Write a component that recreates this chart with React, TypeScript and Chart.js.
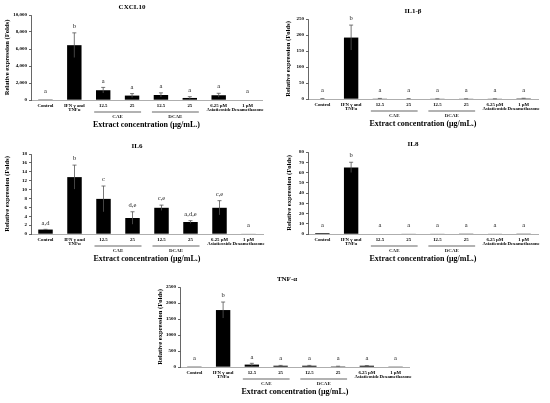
import { useEffect, useRef } from "react";
import Chart from "chart.js/auto";

const CATEGORIES = [
  "Control",
  ["IFN γ and", "TNFα"],
  "12.5",
  "25",
  "12.5",
  "25",
  ["6.25 μM", "Asiaticoside"],
  ["1 μM", "Dexamethasone"],
];
const GROUPS = [
  { label: "CAE", from: 2, to: 3 },
  { label: "DCAE", from: 4, to: 5 },
];

const CXCL10_VALUES = [1, 6450, 1150, 520, 590, 240, 560, 0];
const CXCL10_ERRORS = [0, 1450, 330, 230, 250, 150, 230, 0];
const CXCL10_LETTERS = ["a", "b", "a", "a", "a", "a", "a", "a"];
const CXCL10_TICKS = [0, 2000, 4000, 6000, 8000, 10000];
const CXCL10_TICK_LABELS = ["0", "2,000", "4,000", "6,000", "8,000", "10,000"];

const IL1B_VALUES = [1, 192, 1.5, 1, 0.5, 0.5, 0.5, 2];
const IL1B_ERRORS = [0.2, 39, 0.3, 0.2, 0.1, 0.1, 0.1, 0.3];
const IL1B_LETTERS = ["a", "b", "a", "a", "a", "a", "a", "a"];
const IL1B_TICKS = [0, 50, 100, 150, 200, 250];
const IL1B_TICK_LABELS = ["0", "50", "100", "150", "200", "250"];

const IL6_VALUES = [1, 12.8, 7.9, 3.6, 5.9, 2.7, 5.9, 0.05];
const IL6_ERRORS = [0.05, 2.7, 2.9, 1.4, 0.6, 0.3, 1.6, 0];
const IL6_LETTERS = ["a,d", "b", "c", "d,e", "c,e", "a,d,e", "c,e", "a"];
const IL6_TICKS = [0, 2, 4, 6, 8, 10, 12, 14, 16, 18];
const IL6_TICK_LABELS = ["0", "2", "4", "6", "8", "10", "12", "14", "16", "18"];

const IL8_VALUES = [1, 65, 0.3, 0.2, 0.2, 0.1, 0.2, 0.1];
const IL8_ERRORS = [0, 5, 0, 0, 0, 0, 0, 0];
const IL8_LETTERS = ["a", "b", "a", "a", "a", "a", "a", "a"];
const IL8_TICKS = [0, 10, 20, 30, 40, 50, 60, 70, 80];
const IL8_TICK_LABELS = ["0", "10", "20", "30", "40", "50", "60", "70", "80"];

const TNF_VALUES = [1, 1780, 75, 40, 40, 20, 40, 2];
const TNF_ERRORS = [0, 250, 40, 10, 10, 5, 5, 0];
const TNF_LETTERS = ["a", "b", "a", "a", "a", "a", "a", "a"];
const TNF_TICKS = [0, 500, 1000, 1500, 2000, 2500];
const TNF_TICK_LABELS = ["0", "500", "1000", "1500", "2000", "2500"];

const SERIF = "'Liberation Serif', 'Times New Roman', serif";

type PanelProps = {
  title: string;
  values: number[];
  errors: number[];
  letters: string[];
  ticks: number[];
  tickLabels: string[];
  box: { x: number; y: number; w: number; h: number };
  area: { left: number; top: number; right: number; bottom: number };
  titleX: number;
  yTitleX: number;
};

const annotations = {
  id: "annotations",
  afterDatasetsDraw(chart: any, _args: any, opts: any) {
    const { ctx, chartArea } = chart;
    const x = chart.scales.x;
    const y = chart.scales.y;
    const base = y.getPixelForValue(0);
    ctx.save();
    // error bars
    ctx.strokeStyle = "#555";
    ctx.lineWidth = 0.8;
    opts.values.forEach((v: number, i: number) => {
      const e = opts.errors[i];
      if (!e) return;
      const cx = x.getPixelForValue(i);
      const yt = y.getPixelForValue(v + e);
      const yb = y.getPixelForValue(Math.max(0, v - e));
      ctx.beginPath();
      ctx.moveTo(cx, yb);
      ctx.lineTo(cx, yt);
      ctx.moveTo(cx - 2, yt);
      ctx.lineTo(cx + 2, yt);
      ctx.stroke();
    });
    // significance letters
    ctx.fillStyle = "#222";
    ctx.font = `6.5px ${SERIF}`;
    ctx.textAlign = "center";
    ctx.textBaseline = "middle";
    opts.letters.forEach((t: string, i: number) => {
      const top = y.getPixelForValue(opts.values[i] + opts.errors[i]);
      ctx.fillText(t, x.getPixelForValue(i), Math.min(top - 6.5, base - 9));
    });
    // group underlines
    ctx.strokeStyle = "#222";
    ctx.lineWidth = 0.7;
    ctx.font = `bold 5px ${SERIF}`;
    GROUPS.forEach((g) => {
      const x1 = x.getPixelForValue(g.from) - 9;
      const x2 = x.getPixelForValue(g.to) + 9;
      const ly = chartArea.bottom + 12;
      ctx.beginPath();
      ctx.moveTo(x1, ly);
      ctx.lineTo(x2, ly);
      ctx.stroke();
      ctx.fillText(g.label, (x1 + x2) / 2, ly + 4.5);
    });
    // panel title
    ctx.font = `bold 7px ${SERIF}`;
    ctx.fillStyle = "#000";
    ctx.fillText(opts.title, opts.titleX, chartArea.top - 8);
    ctx.restore();
  },
};

function Panel(p: PanelProps) {
  const canvasRef = useRef<HTMLCanvasElement>(null);

  useEffect(() => {
    if (!canvasRef.current) return;
    const { w, h } = p.box;
    const a = p.area;
    const xTitleSize = 8;
    const chart = new Chart(canvasRef.current, {
      type: "bar",
      data: {
        labels: CATEGORIES as any,
        datasets: [
          {
            data: p.values,
            backgroundColor: "#000",
            barPercentage: 0.5,
            categoryPercentage: 1,
          },
        ],
      },
      options: {
        responsive: false,
        animation: false,
        layout: { padding: { left: 0, top: a.top, right: w - a.right, bottom: 0 } },
        plugins: {
          legend: { display: false },
          tooltip: { enabled: false },
          annotations: {
            values: p.values,
            errors: p.errors,
            letters: p.letters,
            title: p.title,
            titleX: p.titleX,
          },
        } as any,
        scales: {
          x: {
            grid: { display: false, drawTicks: false },
            border: { display: true, color: "#999", width: 0.8 },
            ticks: {
              color: "#000",
              font: { family: SERIF, size: 4.8, weight: "bold", lineHeight: 1 },
              padding: 3,
              autoSkip: false,
              minRotation: 0,
              maxRotation: 0,
            },
            title: {
              display: true,
              text: "Extract concentration (μg/mL.)",
              color: "#000",
              font: { family: SERIF, size: xTitleSize, weight: "bold", lineHeight: 1.2 },
              padding: { top: 0, bottom: h - a.bottom - 25 - (xTitleSize * 1.2) / 2 },
            },
            afterFit: (s: any) => {
              s.height = h - a.bottom;
            },
          },
          y: {
            min: p.ticks[0],
            max: p.ticks[p.ticks.length - 1],
            grid: {
              display: true,
              drawOnChartArea: false,
              drawTicks: true,
              tickLength: 2,
              color: "#000",
              lineWidth: 0.6,
            },
            border: { display: true, color: "#000", width: 0.6 },
            ticks: {
              stepSize: p.ticks[1] - p.ticks[0],
              autoSkip: false,
              color: "#000",
              font: { family: SERIF, size: 5, weight: "bold" },
              padding: 2,
              callback: (_v: any, i: number) => p.tickLabels[i],
            },
            title: {
              display: true,
              text: "Relative expression (Folds)",
              color: "#000",
              font: { family: SERIF, size: 6.6, weight: "bold", lineHeight: 1.2 },
              padding: { top: p.yTitleX - 4, bottom: 0 },
            },
            afterFit: (s: any) => {
              s.width = a.left;
            },
          },
        },
      },
      plugins: [annotations],
    });
    return () => chart.destroy();
  }, []);

  return (
    <canvas
      ref={canvasRef}
      width={p.box.w}
      height={p.box.h}
      style={{ position: "absolute", left: p.box.x, top: p.box.y, width: p.box.w, height: p.box.h }}
    />
  );
}

export default function App() {
  return (
    <div style={{ position: "fixed", left: 0, top: 0, width: 550, height: 403, background: "#fff", overflow: "hidden" }}>
      <Panel
        title="CXCL10"
        values={CXCL10_VALUES}
        errors={CXCL10_ERRORS}
        letters={CXCL10_LETTERS}
        ticks={CXCL10_TICKS}
        tickLabels={CXCL10_TICK_LABELS}
        box={{ x: 0, y: 0, w: 275, h: 135 }}
        area={{ left: 31, top: 15, right: 262, bottom: 100 }}
        titleX={132}
        yTitleX={7}
      />
      <Panel
        title="IL1-β"
        values={IL1B_VALUES}
        errors={IL1B_ERRORS}
        letters={IL1B_LETTERS}
        ticks={IL1B_TICKS}
        tickLabels={IL1B_TICK_LABELS}
        box={{ x: 275, y: 0, w: 275, h: 135 }}
        area={{ left: 33, top: 19, right: 263, bottom: 99 }}
        titleX={138}
        yTitleX={13}
      />
      <Panel
        title="IL6"
        values={IL6_VALUES}
        errors={IL6_ERRORS}
        letters={IL6_LETTERS}
        ticks={IL6_TICKS}
        tickLabels={IL6_TICK_LABELS}
        box={{ x: 0, y: 135, w: 275, h: 135 }}
        area={{ left: 31, top: 19, right: 263, bottom: 99 }}
        titleX={137}
        yTitleX={7}
      />
      <Panel
        title="IL8"
        values={IL8_VALUES}
        errors={IL8_ERRORS}
        letters={IL8_LETTERS}
        ticks={IL8_TICKS}
        tickLabels={IL8_TICK_LABELS}
        box={{ x: 275, y: 135, w: 275, h: 135 }}
        area={{ left: 33, top: 17, right: 263, bottom: 99 }}
        titleX={138}
        yTitleX={14}
      />
      <Panel
        title="TNF-α"
        values={TNF_VALUES}
        errors={TNF_ERRORS}
        letters={TNF_LETTERS}
        ticks={TNF_TICKS}
        tickLabels={TNF_TICK_LABELS}
        box={{ x: 140, y: 270, w: 275, h: 133 }}
        area={{ left: 40, top: 17, right: 270, bottom: 97 }}
        titleX={147}
        yTitleX={20}
      />
    </div>
  );
}
